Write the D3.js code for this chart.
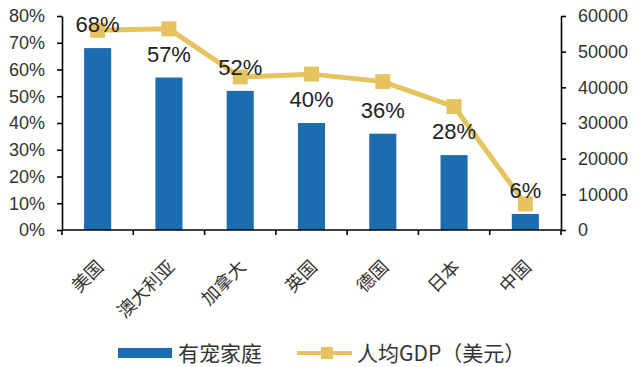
<!DOCTYPE html>
<html><head><meta charset="utf-8">
<script src="https://cdn.jsdelivr.net/npm/d3@7"></script>
<style>
html,body{margin:0;padding:0;background:#fff;}
svg{display:block;}
</style></head>
<body>
<svg id="chart" width="640" height="367"></svg>
<script>
const categories = ["美国","澳大利亚","加拿大","英国","德国","日本","中国"];
const petShare = [0.68, 0.57, 0.52, 0.40, 0.36, 0.28, 0.06];
const gdpPerCapita = [56000, 56400, 42900, 43700, 41600, 34600, 7300];
const leftTicks = [0,0.1,0.2,0.3,0.4,0.5,0.6,0.7,0.8];
const rightTicks = [0,10000,20000,30000,40000,50000,60000];
const seriesNames = ["有宠家庭","人均GDP（美元）"];

const barColor = "#1c6cb0";
const lineColor = "#e5c35e";
const textColor = "#333";
const latin = "Arial, 'Liberation Sans', sans-serif";
const cjk = "'Noto Sans CJK SC', sans-serif";

const svg = d3.select("#chart");
const L = 62, R = 561, T = 16, B = 230;

const x = d3.scaleBand().domain(categories).range([L, R]).paddingInner(0.62).paddingOuter(0.31);
const yL = d3.scaleLinear().domain([0, 0.8]).range([B, T]);
const yR = d3.scaleLinear().domain([0, 60000]).range([B, T]);

// bars
svg.append("g").selectAll("rect").data(categories).join("rect")
  .attr("x", d => x(d))
  .attr("width", x.bandwidth())
  .attr("y", (d,i) => yL(petShare[i]))
  .attr("height", (d,i) => B - yL(petShare[i]))
  .attr("fill", barColor);

// axes
const axL = svg.append("g").attr("transform", `translate(${L},0)`)
  .call(d3.axisLeft(yL).tickValues(leftTicks).tickFormat(d3.format(".0%")).tickSize(5).tickSizeOuter(0).tickPadding(12));
const axR = svg.append("g").attr("transform", `translate(${R},0)`)
  .call(d3.axisRight(yR).tickValues(rightTicks).tickFormat(d3.format("d")).tickSize(5).tickSizeOuter(0).tickPadding(12));
[axL, axR].forEach(a => {
  a.selectAll("text").attr("font-family", latin).attr("font-size", 18).attr("fill", textColor);
  a.selectAll("line,path").attr("stroke", "#000").attr("stroke-width", 1.6);
});

// bottom axis with ticks at band boundaries
const step = x.step();
const boundaries = d3.range(categories.length + 1).map(i => L + i * step);
const axB = svg.append("g");
axB.append("line").attr("x1", L).attr("x2", R).attr("y1", B).attr("y2", B)
  .attr("stroke", "#000").attr("stroke-width", 1.6);
axB.selectAll("line.tk").data(boundaries).join("line").attr("class","tk")
  .attr("x1", d => d).attr("x2", d => d).attr("y1", B).attr("y2", B + 5)
  .attr("stroke", "#000").attr("stroke-width", 1.6);
axB.selectAll("text").data(categories).join("text")
  .attr("transform", d => `translate(${x(d) + x.bandwidth()/2 + 7},${B + 38}) rotate(-45)`)
  .attr("text-anchor", "end")
  .attr("font-family", cjk).attr("font-size", 18).attr("fill", textColor)
  .text(d => d);

// line
const cx = d => x(d) + x.bandwidth()/2;
const line = d3.line().x((d,i) => cx(categories[i])).y(d => yR(d));
svg.append("path").datum(gdpPerCapita).attr("d", line)
  .attr("fill", "none").attr("stroke", lineColor).attr("stroke-width", 5).attr("stroke-linejoin", "round");
const ms = 15;
svg.append("g").selectAll("rect").data(gdpPerCapita).join("rect")
  .attr("x", (d,i) => cx(categories[i]) - ms/2)
  .attr("y", d => yR(d) - ms/2)
  .attr("width", ms).attr("height", ms)
  .attr("fill", lineColor);

// labels
svg.append("g").selectAll("text").data(petShare).join("text")
  .attr("x", (d,i) => cx(categories[i]))
  .attr("y", d => yL(d) - 16)
  .attr("text-anchor", "middle")
  .attr("font-family", latin).attr("font-size", 22).attr("fill", "#222")
  .text(d => d3.format(".0%")(d));

// legend
const lg = svg.append("g");
lg.append("rect").attr("x", 118).attr("y", 348).attr("width", 54).attr("height", 10).attr("fill", barColor);
lg.append("text").attr("x", 178).attr("y", 361).attr("font-family", cjk).attr("font-size", 21)
  .attr("fill", textColor).text(seriesNames[0]);
lg.append("line").attr("x1", 297).attr("x2", 352).attr("y1", 353).attr("y2", 353)
  .attr("stroke", lineColor).attr("stroke-width", 4);
lg.append("rect").attr("x", 327 - 6).attr("y", 353 - 6).attr("width", 12).attr("height", 12).attr("fill", lineColor);
lg.append("text").attr("x", 357).attr("y", 361).attr("font-family", cjk).attr("font-size", 21)
  .attr("fill", textColor).text(seriesNames[1]);
</script>
</body></html>
